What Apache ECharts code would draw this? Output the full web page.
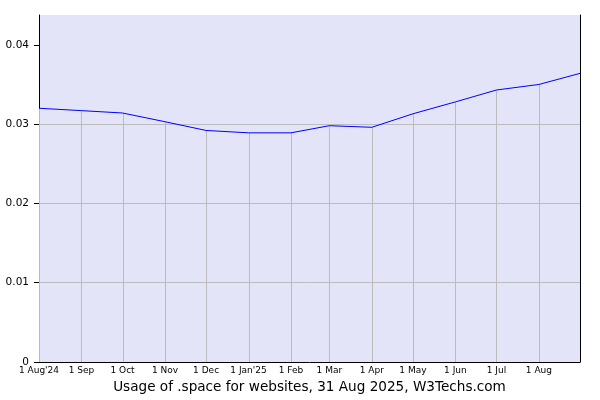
<!DOCTYPE html>
<html>
<head>
<meta charset="utf-8">
<script src="https://cdn.jsdelivr.net/npm/echarts@6/dist/echarts.min.js"></script>
<style>html,body{margin:0;padding:0;background:#fff}#c{width:600px;height:400px}</style>
</head>
<body>
<div id="c"></div>
<script>
var dates = ['2024-08-01','2024-09-01','2024-10-01','2024-11-01','2024-12-01','2025-01-01','2025-02-01','2025-03-01','2025-04-01','2025-05-01','2025-06-01','2025-07-01','2025-08-01','2025-08-31'];
var values = [0.0320,0.0317,0.0314,0.0303,0.0292,0.0289,0.0289,0.0298,0.0296,0.0313,0.0328,0.0343,0.0350,0.0364];
var monthDates = dates.slice(0, 13);
var monthLabels = ["1 Aug'24",'1 Sep','1 Oct','1 Nov','1 Dec',"1 Jan'25",'1 Feb','1 Mar','1 Apr','1 May','1 Jun','1 Jul','1 Aug'];
var yTicks = [0, 0.01, 0.02, 0.03, 0.04];
var yMax = 0.04376;
var titleText = 'Usage of .space for websites, 31 Aug 2025, W3Techs.com';

function ts(s){ var p = s.split('-'); return Date.UTC(+p[0], +p[1]-1, +p[2]); }
var monthTs = monthDates.map(ts);
var lineData = dates.map(function(d, i){ return [ts(d), values[i]]; });
var dropData = monthDates.map(function(d, i){ return [ts(d), values[i]]; });

var chart = echarts.init(document.getElementById('c'), null, {renderer:'canvas'});
chart.setOption({
  animation: false,
  textStyle: {fontFamily: 'DejaVu Sans'},
  grid: {left: 39, right: 20, top: 15, bottom: 38, show: true, backgroundColor: '#e4e4f8', borderWidth: 0},
  xAxis: {
    type: 'value',
    min: ts(dates[0]),
    max: ts(dates[dates.length-1]),
    axisLine: {show: true, lineStyle: {color: '#000', width: 1}},
    axisTick: {show: false},
    splitLine: {show: false},
    axisLabel: {
      customValues: monthTs,
      fontSize: 9, color: '#000', margin: 4, fontFamily: 'DejaVu Sans',
      showMinLabel: true, showMaxLabel: true, hideOverlap: false,
      formatter: function(v){ var i = monthTs.indexOf(v); return i >= 0 ? monthLabels[i] : ''; }
    }
  },
  yAxis: [{
    type: 'value', min: 0, max: yMax, interval: 0.01,
    axisLine: {show: true, lineStyle: {color: '#000', width: 1}},
    axisTick: {show: true, length: 5, lineStyle: {color: '#000'}, customValues: yTicks},
    axisLabel: {customValues: yTicks, fontSize: 10.5, color: '#000', margin: 10, fontFamily: 'DejaVu Sans',
      formatter: function(v){ return v === 0 ? '0' : v.toFixed(2); }},
    splitLine: {show: true, showMinLine: false, showMaxLine: false, lineStyle: {color: '#bbbbbb', width: 1}}
  }, {
    type: 'value', position: 'right', min: 0, max: yMax,
    axisLine: {show: true, lineStyle: {color: '#000', width: 1}},
    axisTick: {show: false}, axisLabel: {show: false}, splitLine: {show: false}
  }],
  series: [{
    type: 'custom',
    data: dropData,
    encode: {x: 0, y: 1},
    z: 1,
    silent: true,
    renderItem: function(params, api){
      var top = api.coord([api.value(0), api.value(1)]);
      var bot = api.coord([api.value(0), 0]);
      var x = Math.round(top[0]) + 0.5;
      return {type: 'line', shape: {x1: x, y1: top[1], x2: x, y2: bot[1]}, style: {stroke: '#bbbbbb', lineWidth: 1}, silent: true};
    }
  }, {
    type: 'line',
    data: lineData,
    z: 3,
    symbol: 'none',
    lineStyle: {color: '#0000ff', width: 1},
    itemStyle: {color: '#0000ff'}
  }],
  graphic: [{
    type: 'text', x: 309.5, y: 387.5, silent: true,
    style: {text: titleText, textAlign: 'center', textVerticalAlign: 'middle', font: '13.6px "DejaVu Sans"', fill: '#000'}
  }]
});
</script>
</body>
</html>
